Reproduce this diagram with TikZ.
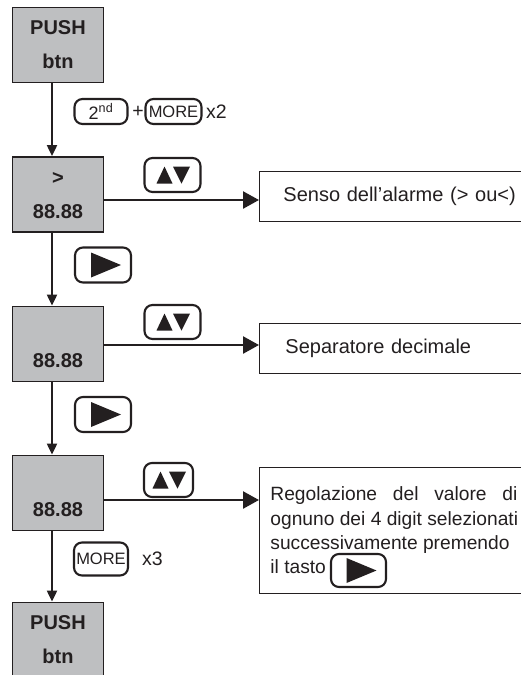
\documentclass[tikz,border=0pt]{standalone}
\usepackage{fontspec}
\setmainfont{Liberation Sans}
\usetikzlibrary{arrows.meta}
\definecolor{boxgray}{RGB}{190,191,193}
\definecolor{inkblack}{RGB}{35,31,32}
\tikzset{
  statebox/.style={draw=inkblack, line width=1.9pt, fill=boxgray, minimum width=91pt, minimum height=75pt,
    inner sep=0pt, text width=88pt, align=center, text=inkblack, font=\fontsize{20}{34}\selectfont\bfseries},
  descbox/.style={draw=inkblack, line width=0.9pt, inner ysep=0pt, align=left, text=inkblack,
    font=\fontsize{20}{24.3}\selectfont},
  keybox/.style={draw=inkblack, line width=2.1pt, rounded corners=8pt, inner sep=0pt, text=inkblack,
    font=\fontsize{16.5}{18}\selectfont},
  updownkey/.style={keybox, minimum width=56pt, minimum height=34pt,
    path picture={
      \fill[inkblack, sharp corners] ([xshift=-16pt,yshift=-8.5pt]path picture bounding box.center)
        -- ++(16pt,0pt) -- ++(-8pt,17pt) -- cycle;
      \fill[inkblack, sharp corners] ([xshift=0.5pt,yshift=8.5pt]path picture bounding box.center)
        -- ++(17pt,0pt) -- ++(-8.5pt,-17pt) -- cycle;}},
  rightkey/.style={keybox, minimum width=56pt, minimum height=35pt,
    path picture={
      \fill[inkblack, sharp corners] ([xshift=-12pt,yshift=12.5pt]path picture bounding box.center)
        -- ++(30pt,-12.5pt) -- ++(-30pt,-12.5pt) -- cycle;}},
  keytext/.style={inner sep=0pt, text=inkblack, font=\fontsize{19.5}{20}\selectfont},
  vflow/.style={draw=inkblack, line width=2.2pt, -{Triangle[length=11pt,width=10pt]}},
  hflow/.style={draw=inkblack, line width=2.4pt, -{Triangle[length=16pt,width=17pt]}}
}
\begin{document}
\begin{tikzpicture}[x=1pt, y=-1pt]
  \useasboundingbox (0,0) rectangle (521,675);
  \clip (0,0) rectangle (521,675);
  % display states
  \node[statebox] (s0) at (58,45) {PUSH\\btn};
  \node[statebox] (s1) at (58,194.5) {\vphantom{P}>\\88.88};
  \node[statebox] (s2) at (58,344) {\vphantom{P}\\88.88};
  \node[statebox] (s3) at (58,493) {\vphantom{P}\\88.88};
  \node[statebox] (s4) at (58,640) {PUSH\\btn};
  % keys
  \node[keybox, minimum width=53pt, minimum height=25pt] (k2nd) at (101,111.5) {\fontsize{18}{18}\selectfont 2\textsuperscript{nd}};
  \node[keytext] (plus) at (138,111.5) {+};
  \node[keybox, minimum width=56pt, minimum height=25pt] (kmore1) at (173.5,111.5) {MORE};
  \node[keytext, anchor=west] (x2) at (206,111.5) {x2};
  \node[updownkey] (ud1) at (172.5,175) {};
  \node[updownkey] (ud2) at (172.5,322) {};
  \node[updownkey, minimum width=49pt] (ud3) at (168.5,480) {};
  \node[rightkey] (r1) at (103,265) {};
  \node[rightkey] (r2) at (103,414.5) {};
  \node[keybox, minimum width=54pt, minimum height=33pt] (kmore2) at (101,559) {MORE};
  \node[keytext, anchor=west] (x3) at (142,559) {x3};
  % descriptions
  \node[descbox, anchor=west, minimum height=50pt, inner xsep=24pt, text width=250pt] (d1) at (259,196) {Senso dell’alarme (> ou<)};
  \node[descbox, anchor=west, minimum height=50pt, inner xsep=26pt, text width=250pt] (d2) at (259,348) {Separatore decimale};
  \node[descbox, anchor=north west, minimum height=126pt, inner xsep=11pt,
    font=\fontsize{19.2}{24.3}\selectfont] (d3) at (259,467)
    {\makebox[247pt][l]{Regolazione\hfill del\hfill valore\hfill di}\\ognuno dei 4 digit selezionati\\successivamente premendo\\il tasto};
  \node[rightkey, minimum width=55pt, minimum height=33pt] (r3) at (358.5,570.5) {};
  % connectors
  \foreach \a/\b in {s0/s1,s1/s2,s2/s3,s3/s4}
    \draw[vflow] ([xshift=-6pt]\a.south) -- ([xshift=-6pt]\b.north);
  \foreach \s/\d/\dy in {s1/d1/-5.5,s2/d2/-1,s3/d3/-7}
    \draw[hflow] ([yshift=\dy pt]\s.east) -- ([yshift=\dy pt]\s.east -| \d.west);
\end{tikzpicture}
\end{document}
